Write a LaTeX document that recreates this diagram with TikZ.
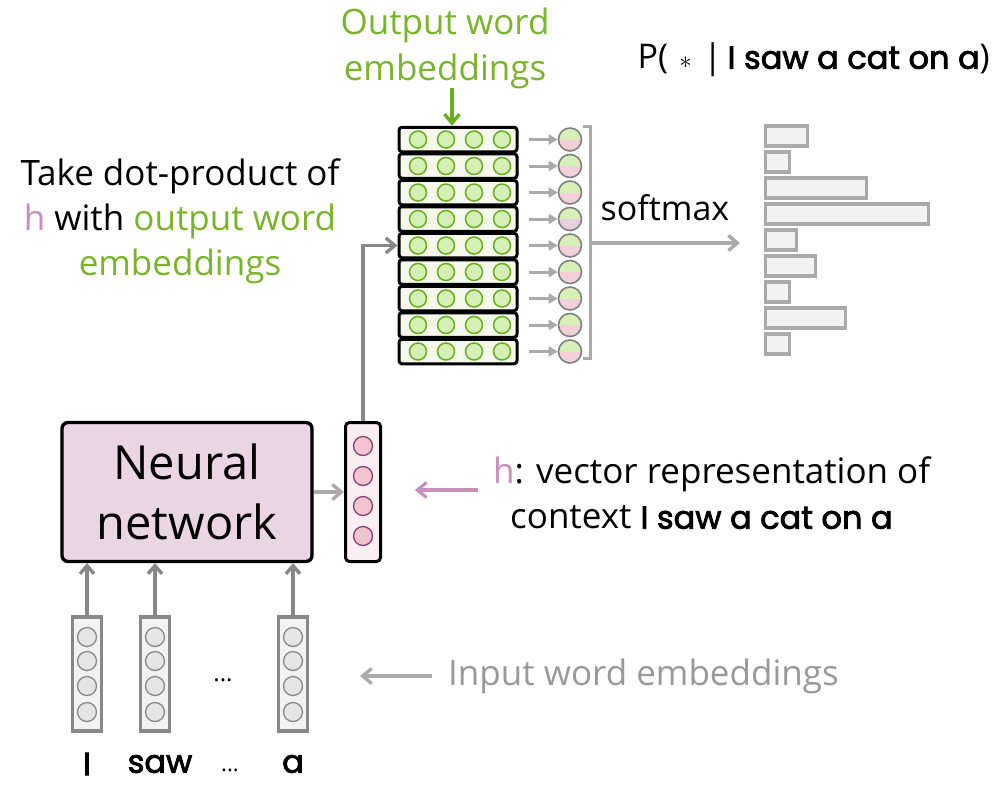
\documentclass[tikz,border=0pt]{standalone}
\usepackage{fontspec}
\setmainfont{Open Sans}
\newfontfamily\ctxfont{Poppins}[FakeBold=2.5]
\usetikzlibrary{arrows.meta}

\definecolor{embtext}{HTML}{7AB42C}
\definecolor{embline}{HTML}{6AAE20}
\definecolor{embfill}{HTML}{D5F0B5}
\definecolor{rowfill}{HTML}{F4F9EC}
\definecolor{hpink}{HTML}{C98DBE}
\definecolor{nnfill}{HTML}{EAD6E2}
\definecolor{hfill}{HTML}{FBEEF2}
\definecolor{hcirc}{HTML}{F2C4D0}
\definecolor{hcircline}{HTML}{8A3C70}
\definecolor{lgray}{HTML}{AAAAAA}
\definecolor{mgray}{HTML}{888888}
\definecolor{barfill}{HTML}{F2F2F2}
\definecolor{resgreen}{HTML}{D8F0B8}
\definecolor{respink}{HTML}{F2D0DA}
\definecolor{reslilac}{HTML}{E6D0E0}

\tikzset{
  txt/.style={font=\fontsize{35}{45}\selectfont, align=center, inner sep=0pt},
  embrow/.style={draw=black, line width=3pt, fill=rowfill, rounded corners=3pt,
    minimum width=118pt, minimum height=24.5pt, inner sep=0pt},
  embdot/.style={circle, draw=embline, line width=1.5pt, fill=embfill, minimum size=17pt, inner sep=0pt},
  rescirc/.style={circle, draw=gray, line width=1.6pt, minimum size=23pt, inner sep=0pt,
    path picture={
      \fill[resgreen] (path picture bounding box.north west) rectangle (path picture bounding box.east);
      \fill[#1] (path picture bounding box.west) rectangle (path picture bounding box.south east);}},
  rescirc/.default=respink,
  smallarr/.style={draw=lgray, line width=3pt, -{Triangle[length=9pt,width=10pt]}},
  bigarr/.style={draw=mgray, line width=3.4pt, -{Straight Barb[length=8pt,width=14pt]}},
  grayarr/.style={draw=lgray, line width=3.4pt, -{Straight Barb[length=9pt,width=15pt]}},
  bar/.style={draw=lgray, line width=3.4pt, fill=barfill, anchor=west, minimum height=20pt, inner sep=0pt},
  vecbox/.style={draw=black, line width=3pt, fill=hfill, rounded corners=4pt,
    minimum width=35pt, minimum height=139pt, inner sep=0pt},
  hdot/.style={circle, draw=hcircline, line width=1.3pt, fill=hcirc, minimum size=19pt, inner sep=0pt},
  inbox/.style={draw=mgray, line width=3.2pt, fill=barfill,
    minimum width=29pt, minimum height=114pt, inner sep=0pt},
  indot/.style={circle, draw=mgray, line width=1.3pt, fill=black!10, minimum size=19pt, inner sep=0pt},
  ctx/.style={font=\ctxfont\fontsize{32}{40}\selectfont, inner sep=0pt},
}

\begin{document}
\begin{tikzpicture}[x=1pt,y=-1pt]
\useasboundingbox (0,0) rectangle (993,785);

% output embedding matrix
\node[txt, text=embtext, font=\fontsize{35}{46}\selectfont] (outlbl) at (445,48) {Output word\\embeddings};
\foreach \i in {1,...,9}{
  \pgfmathsetmacro{\yy}{139.5+26.5*(\i-1)}
  \node[embrow] (r\i) at (458,\yy) {};
  \foreach \k/\xx in {1/418,2/446,3/474,4/502}
    \node[embdot] (d\i\k) at (\xx,\yy) {};
  \ifnum\i=4
    \node[rescirc=reslilac] (c\i) at (570,\yy) {};
  \else
    \node[rescirc] (c\i) at (570,\yy) {};
  \fi
  \draw[smallarr] ([xshift=10pt]r\i.east) -- (c\i.west);
}
\coordinate (grn) at (452,88);
\draw[draw=embline, line width=3.4pt, -{Straight Barb[length=9pt,width=15pt]}] (grn) -- (r1.north -| grn);

% bracket and softmax
\coordinate (bt) at (583,126);
\coordinate (bb) at (583,358);
\coordinate (bm) at (590,243);
\coordinate (sm) at (740,243);
\draw[lgray, line width=3pt] (bt) -- ++(7,0) |- (bb);
\draw[grayarr] (bm) -- (sm);
\node[txt, font=\fontsize{34}{40}\selectfont] (smx) at (665,208) {softmax};

% output distribution
\foreach \i/\w in {1/42,2/24,3/101,4/163,5/31,6/50,7/24,8/80,9/24}{
  \pgfmathsetmacro{\yy}{136+26*(\i-1)}
  \node[bar, minimum width=\w pt] (b\i) at (764,\yy) {};
}
\node[inner sep=0pt, anchor=east] (prob) at (990,60)
  {\fontsize{34}{40}\selectfont P(\,\,$\ast$\,\,|\,{\ctxfont\fontsize{32}{40}\selectfont I saw a cat on a})};

% left description
\node[txt] (dot) at (180,221) {Take dot-product of\\
  \textcolor{hpink}{h} with \textcolor{embtext}{output word}\\
  \textcolor{embtext}{embeddings}};

% neural network and context vector
\node[draw=black, line width=3.4pt, fill=nnfill, rounded corners=6pt,
  minimum width=250pt, minimum height=139pt, inner sep=0pt, align=center,
  font=\fontsize{47}{60}\selectfont] (nn) at (187,492) {Neural\\network};
\node[vecbox] (h) at (363,492) {};
\foreach \k/\yy in {1/446,2/476,3/506,4/536}
  \node[hdot] (hd\k) at (363,\yy) {};
\draw[grayarr] (nn.east) -- (h.west);
\draw[grayarr, draw=mgray] (h.north) |- (r5.west);

% context description
\node[txt, anchor=west, align=left] (hdesc) at (493,493)
  {\textcolor{hpink}{h}: vector representation of\\
   \hspace*{17pt}context {\ctxfont\fontsize{32}{40}\selectfont I saw a cat on a}};
\coordinate (ha) at (478,490);
\draw[draw=hpink, line width=3.2pt, -{Straight Barb[length=9pt,width=15pt]}] (ha) -- (415,490);

% input word vectors
\foreach \n/\xx in {1/87,2/155,3/293}{
  \node[inbox] (in\n) at (\xx,674) {};
  \foreach \k/\yy in {1/637,2/661,3/686,4/712}
    \node[indot] (id\n\k) at (\xx,\yy) {};
  \draw[bigarr] (in\n.north) -- (in\n.north |- nn.south);
}
\node[inner sep=0pt, font=\fontsize{24}{30}\selectfont] (dots) at (223,680) {...};
\node[ctx] (w1) at (87,764) {I};
\node[ctx] (w2) at (160,764) {saw};
\node[ctx, font=\fontsize{22}{30}\selectfont] (w3) at (230,770) {...};
\node[ctx] (w4) at (293,764) {a};

\node[txt, text=gray!80, anchor=west] (inlbl) at (448,676) {Input word embeddings};
\coordinate (ia) at (432,676);
\draw[grayarr] (ia) -- (360,676);
\end{tikzpicture}
\end{document}
